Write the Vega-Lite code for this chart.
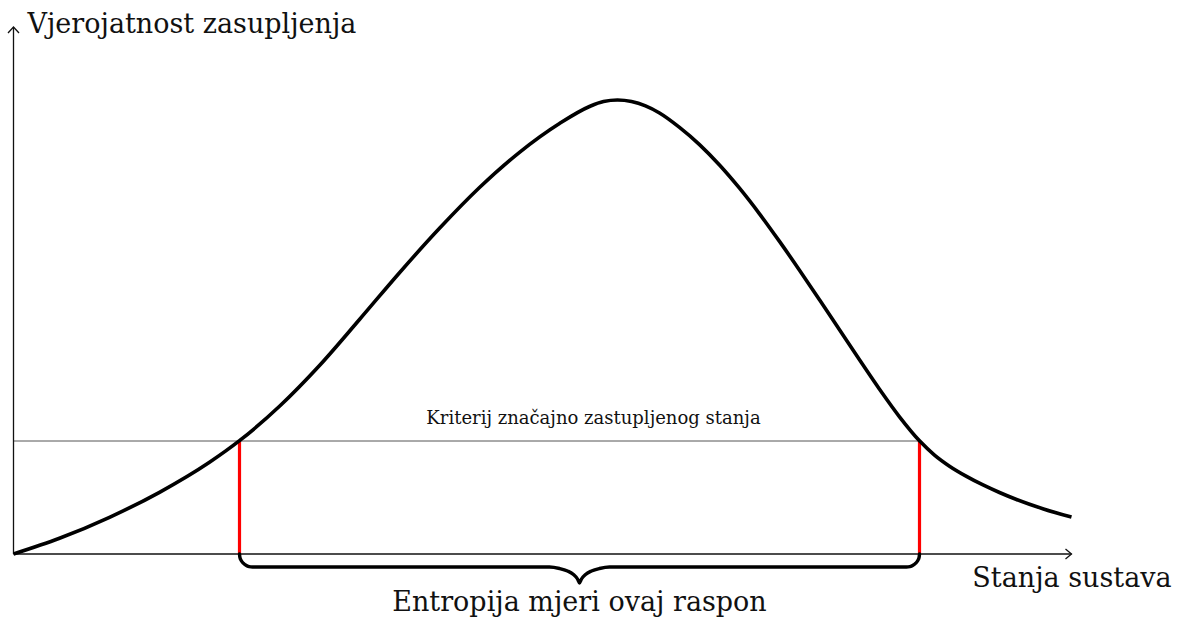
{
  "$schema": "https://vega.github.io/schema/vega-lite/v6.json",
  "width": 1179,
  "height": 623,
  "autosize": {"type": "fit", "contains": "padding"},
  "padding": 0,
  "background": "white",
  "config": {"view": {"stroke": null}},
  "datasets": {
    "curve": [
      {"x": 0, "y": 0}, {"x": 46, "y": 15.7}, {"x": 96, "y": 36.7}, {"x": 146, "y": 61.7},
      {"x": 196, "y": 91.7}, {"x": 226, "y": 113.3}, {"x": 266, "y": 147.7}, {"x": 306, "y": 188.5},
      {"x": 346, "y": 234.5}, {"x": 386, "y": 281.3}, {"x": 426, "y": 325.7}, {"x": 466, "y": 366.5},
      {"x": 506, "y": 401.7}, {"x": 546, "y": 430.5}, {"x": 576, "y": 447.5}, {"x": 590, "y": 452.5},
      {"x": 604, "y": 454}, {"x": 618, "y": 452.5}, {"x": 632, "y": 448.1}, {"x": 646, "y": 441},
      {"x": 666, "y": 426.6}, {"x": 686, "y": 409.4}, {"x": 706, "y": 389}, {"x": 726, "y": 365.8},
      {"x": 746, "y": 340.2}, {"x": 766, "y": 312.6}, {"x": 786, "y": 283.8}, {"x": 806, "y": 254.2},
      {"x": 826, "y": 224.2}, {"x": 846, "y": 194.2}, {"x": 866, "y": 164.8}, {"x": 886, "y": 137.2},
      {"x": 906, "y": 113.2}, {"x": 921, "y": 98.95}, {"x": 936, "y": 87.85}, {"x": 953, "y": 77.65},
      {"x": 969, "y": 69.3}, {"x": 986, "y": 61.5}, {"x": 1003, "y": 54.5}, {"x": 1030, "y": 45.05},
      {"x": 1058, "y": 36.9}
    ],
    "axes": [
      {"x": 0, "y": 0, "x2": 1058, "y2": 0},
      {"x": 0, "y": 0, "x2": 0, "y2": 527}
    ],
    "arrows": [
      {"a": "xh", "i": 0, "x": 1052, "y": 5}, {"a": "xh", "i": 1, "x": 1058, "y": 0}, {"a": "xh", "i": 2, "x": 1052, "y": -5},
      {"a": "yh", "i": 0, "x": -5.5, "y": 521}, {"a": "yh", "i": 1, "x": 0, "y": 527}, {"a": "yh", "i": 2, "x": 5.5, "y": 521}
    ],
    "bounds": [
      {"x": 226, "y": 0, "y2": 113},
      {"x": 906, "y": 0, "y2": 113}
    ],
    "criterion": [
      {"x": 0, "x2": 906, "y": 113}
    ],
    "brace": [
      {"i": 0, "x": 226, "y": 0}, {"i": 1, "x": 226.4, "y": -3.4}, {"i": 2, "x": 227.7, "y": -6.5},
      {"i": 3, "x": 229.8, "y": -9.2}, {"i": 4, "x": 232.5, "y": -11.3}, {"i": 5, "x": 235.6, "y": -12.6},
      {"i": 6, "x": 239, "y": -13}, {"i": 7, "x": 536, "y": -13}, {"i": 8, "x": 546, "y": -14.5},
      {"i": 9, "x": 554, "y": -17}, {"i": 10, "x": 560, "y": -20.5}, {"i": 11, "x": 564, "y": -25},
      {"i": 12, "x": 566, "y": -29}, {"i": 13, "x": 568, "y": -25}, {"i": 14, "x": 572, "y": -20.5},
      {"i": 15, "x": 578, "y": -17}, {"i": 16, "x": 586, "y": -14.5}, {"i": 17, "x": 596, "y": -13},
      {"i": 18, "x": 893, "y": -13}, {"i": 19, "x": 896.4, "y": -12.6}, {"i": 20, "x": 899.5, "y": -11.3},
      {"i": 21, "x": 902.2, "y": -9.2}, {"i": 22, "x": 904.3, "y": -6.5}, {"i": 23, "x": 905.6, "y": -3.4},
      {"i": 24, "x": 906, "y": 0}
    ],
    "ylabel": [{"x": 14, "y": 521, "t": "Vjerojatnost zasupljenja"}],
    "biglabels": [
      {"x": 1058.5, "y": -33, "t": "Stanja sustava"},
      {"x": 566, "y": -57, "t": "Entropija mjeri ovaj raspon"}
    ],
    "smalllabel": [{"x": 580, "y": 130, "t": "Kriterij značajno zastupljenog stanja"}]
  },
  "encoding": {
    "x": {"field": "x", "type": "quantitative", "scale": {"domain": [-13.5, 1165.5], "nice": false, "zero": false}, "axis": null},
    "y": {"field": "y", "type": "quantitative", "scale": {"domain": [-69, 554], "nice": false, "zero": false}, "axis": null}
  },
  "layer": [
    {
      "data": {"name": "criterion"},
      "mark": {"type": "rule", "color": "#555555", "strokeWidth": 1},
      "encoding": {"x2": {"field": "x2"}}
    },
    {
      "data": {"name": "axes"},
      "mark": {"type": "rule", "color": "#111111", "strokeWidth": 1.3},
      "encoding": {"x2": {"field": "x2"}, "y2": {"field": "y2"}}
    },
    {
      "data": {"name": "arrows"},
      "mark": {"type": "line", "color": "#111111", "strokeWidth": 1.3},
      "encoding": {"detail": {"field": "a"}, "order": {"field": "i"}}
    },
    {
      "data": {"name": "bounds"},
      "mark": {"type": "rule", "color": "#ff0000", "strokeWidth": 3.2},
      "encoding": {"y2": {"field": "y2"}}
    },
    {
      "data": {"name": "curve"},
      "mark": {"type": "line", "color": "#000000", "strokeWidth": 3.6, "interpolate": "monotone"},
      "encoding": {}
    },
    {
      "data": {"name": "brace"},
      "mark": {"type": "line", "color": "#000000", "strokeWidth": 3.4, "interpolate": "monotone", "strokeJoin": "round", "strokeCap": "round"},
      "encoding": {"order": {"field": "i"}}
    },
    {
      "data": {"name": "ylabel"},
      "mark": {"type": "text", "align": "left", "baseline": "alphabetic", "font": "DejaVu Serif", "fontSize": 27, "color": "#111111"},
      "encoding": {"text": {"field": "t"}}
    },
    {
      "data": {"name": "biglabels"},
      "mark": {"type": "text", "align": "center", "baseline": "alphabetic", "font": "DejaVu Serif", "fontSize": 27, "color": "#111111"},
      "encoding": {"text": {"field": "t"}}
    },
    {
      "data": {"name": "smalllabel"},
      "mark": {"type": "text", "align": "center", "baseline": "alphabetic", "font": "DejaVu Serif", "fontSize": 18, "color": "#111111"},
      "encoding": {"text": {"field": "t"}}
    }
  ]
}
